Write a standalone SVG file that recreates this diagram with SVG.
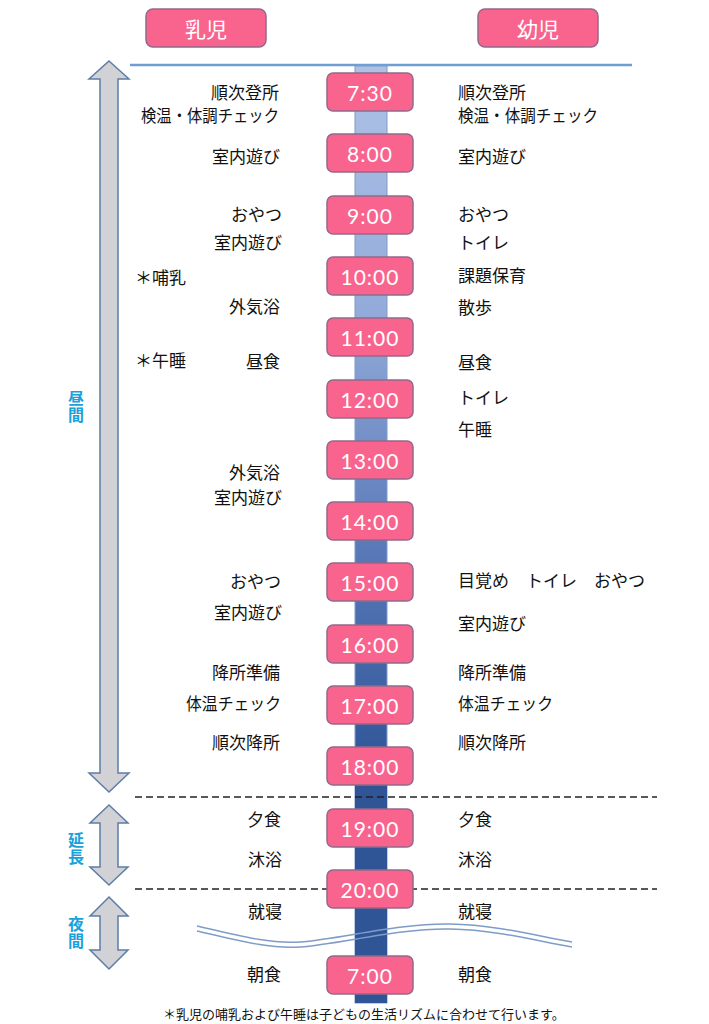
<svg xmlns="http://www.w3.org/2000/svg" width="709" height="1024" viewBox="0 0 709 1024">
<defs>
<linearGradient id="barGrad" gradientUnits="userSpaceOnUse" x1="0" y1="65" x2="0" y2="775">
<stop offset="0" stop-color="#aec2e6"/>
<stop offset="0.35" stop-color="#93abda"/>
<stop offset="0.7" stop-color="#5676b6"/>
<stop offset="1" stop-color="#2f5597"/>
</linearGradient>
<style>
.hdr{fill:#f9648f;stroke:#94688a;stroke-width:1.5}
.tbox{fill:#f9648f;stroke:#94688a;stroke-width:1.5}
.ttxt{font-family:Lato,"Open Sans",sans-serif;font-size:21px;fill:#ffffff;text-anchor:middle;dominant-baseline:central;letter-spacing:1px}
.htxt{font-family:"Noto Sans CJK JP",sans-serif;font-size:21px;fill:#ffffff;text-anchor:middle;dominant-baseline:central}
.tl{font-family:"Noto Sans CJK JP",sans-serif;font-size:17px;fill:#111111;text-anchor:end;dominant-baseline:central}
.tr{font-family:"Noto Sans CJK JP",sans-serif;font-size:17px;fill:#111111;text-anchor:start;dominant-baseline:central}
.vl{font-family:"Noto Sans CJK JP",sans-serif;font-size:16px;font-weight:bold;fill:#1aa1da;text-anchor:middle;writing-mode:vertical-rl;letter-spacing:1px}
.arr{fill:#d2d2d6;stroke:#5c7ea6;stroke-width:1.5;stroke-linejoin:miter}
.dash{stroke:#222222;stroke-width:1.6;stroke-dasharray:7 4;fill:none}
.wave{stroke:#7e9cc8;stroke-width:1.5;fill:none}
</style>
</defs>
<rect width="709" height="1024" fill="#ffffff"/>

<g id="header-infant"><rect class="hdr" x="146" y="9" width="120" height="38" rx="7"/><text class="htxt" x="206" y="28">乳児</text></g>
<g id="header-toddler"><rect class="hdr" x="478" y="9" width="120" height="38" rx="7"/><text class="htxt" x="538" y="28">幼児</text></g>

<line x1="130" y1="65" x2="632" y2="65" stroke="#6f9fd2" stroke-width="2.5"/>

<g id="timebar"><rect x="355" y="66" width="32" height="937" fill="url(#barGrad)" stroke="#7f9cc8" stroke-width="1"/>
<rect x="355" y="775" width="32" height="228" fill="#2f5597"/></g>

<g id="period-arrows">
<path class="arr" d="M109,61 L129,79 L118,79 L118,773 L129,773 L109,792 L89,773 L100,773 L100,79 L89,79 Z"/>
<path class="arr" d="M109,805 L128,823 L118,823 L118,867 L128,867 L109,885 L90,867 L100,867 L100,823 L90,823 Z"/>
<path class="arr" d="M109,897 L128,916 L118,916 L118,950 L128,950 L109,969 L90,950 L100,950 L100,916 L90,916 Z"/>
<text class="vl" x="76" y="407">昼間</text>
<text class="vl" x="76" y="849">延長</text>
<text class="vl" x="76" y="933">夜間</text>
</g>

<g id="connectors">
<line class="dash" x1="135" y1="797" x2="657" y2="797"/>
<line class="dash" x1="135" y1="889" x2="657" y2="889"/>
<path class="wave" d="M197,926 C240,936 270,944 300,942 C340,939 400,923 450,924 C500,925 540,937 572,942"/>
<path class="wave" d="M197,931 C240,941 270,949 300,947 C340,944 400,928 450,929 C500,930 540,942 572,947"/>
</g>

<g id="times">
<g id="t0730"><rect class="tbox" x="327" y="73" width="86" height="38" rx="6"/><text class="ttxt" x="370" y="92">7:30</text></g>
<g id="t0800"><rect class="tbox" x="327" y="134" width="86" height="38" rx="6"/><text class="ttxt" x="370" y="153">8:00</text></g>
<g id="t0900"><rect class="tbox" x="327" y="196" width="86" height="38" rx="6"/><text class="ttxt" x="370" y="215">9:00</text></g>
<g id="t1000"><rect class="tbox" x="327" y="257" width="86" height="38" rx="6"/><text class="ttxt" x="370" y="276">10:00</text></g>
<g id="t1100"><rect class="tbox" x="327" y="318" width="86" height="38" rx="6"/><text class="ttxt" x="370" y="337">11:00</text></g>
<g id="t1200"><rect class="tbox" x="327" y="380" width="86" height="38" rx="6"/><text class="ttxt" x="370" y="399">12:00</text></g>
<g id="t1300"><rect class="tbox" x="327" y="441" width="86" height="38" rx="6"/><text class="ttxt" x="370" y="460">13:00</text></g>
<g id="t1400"><rect class="tbox" x="327" y="502" width="86" height="38" rx="6"/><text class="ttxt" x="370" y="521">14:00</text></g>
<g id="t1500"><rect class="tbox" x="327" y="563" width="86" height="38" rx="6"/><text class="ttxt" x="370" y="582">15:00</text></g>
<g id="t1600"><rect class="tbox" x="327" y="625" width="86" height="38" rx="6"/><text class="ttxt" x="370" y="644">16:00</text></g>
<g id="t1700"><rect class="tbox" x="327" y="686" width="86" height="38" rx="6"/><text class="ttxt" x="370" y="705">17:00</text></g>
<g id="t1800"><rect class="tbox" x="327" y="747" width="86" height="38" rx="6"/><text class="ttxt" x="370" y="766">18:00</text></g>
<g id="t1900"><rect class="tbox" x="327" y="809" width="86" height="38" rx="6"/><text class="ttxt" x="370" y="828">19:00</text></g>
<g id="t2000"><rect class="tbox" x="327" y="870" width="86" height="38" rx="6"/><text class="ttxt" x="370" y="889">20:00</text></g>
<g id="t0700"><rect class="tbox" x="327" y="956" width="86" height="38" rx="6"/><text class="ttxt" x="370" y="975">7:00</text></g>
</g>

<g id="infant-activities">
<text class="tl" x="279" y="91">順次登所</text>
<text class="tl" x="279" y="114" textLength="138" lengthAdjust="spacingAndGlyphs">検温・体調チェック</text>
<text class="tl" x="280" y="155">室内遊び</text>
<text class="tl" x="282" y="213">おやつ</text>
<text class="tl" x="282" y="241">室内遊び</text>
<text class="tr" x="135" y="276">＊哺乳</text>
<text class="tl" x="280" y="305">外気浴</text>
<text class="tr" x="135" y="359">＊午睡</text>
<text class="tl" x="280" y="360">昼食</text>
<text class="tl" x="280" y="471">外気浴</text>
<text class="tl" x="282" y="496">室内遊び</text>
<text class="tl" x="281" y="580">おやつ</text>
<text class="tl" x="282" y="611">室内遊び</text>
<text class="tl" x="280" y="671">降所準備</text>
<text class="tl" x="281" y="702" textLength="95" lengthAdjust="spacingAndGlyphs">体温チェック</text>
<text class="tl" x="280" y="741">順次降所</text>
<text class="tl" x="281" y="818">夕食</text>
<text class="tl" x="282" y="858">沐浴</text>
<text class="tl" x="282" y="910">就寝</text>
<text class="tl" x="281" y="973">朝食</text>
</g>

<g id="toddler-activities">
<text class="tr" x="458" y="91">順次登所</text>
<text class="tr" x="458" y="114" textLength="140" lengthAdjust="spacingAndGlyphs">検温・体調チェック</text>
<text class="tr" x="458" y="155">室内遊び</text>
<text class="tr" x="458" y="213">おやつ</text>
<text class="tr" x="458" y="241">トイレ</text>
<text class="tr" x="458" y="274">課題保育</text>
<text class="tr" x="458" y="306">散歩</text>
<text class="tr" x="458" y="361">昼食</text>
<text class="tr" x="458" y="396">トイレ</text>
<text class="tr" x="458" y="428">午睡</text>
<text class="tr" x="458" y="579">目覚め　トイレ　おやつ</text>
<text class="tr" x="458" y="622">室内遊び</text>
<text class="tr" x="458" y="671">降所準備</text>
<text class="tr" x="458" y="702" textLength="95" lengthAdjust="spacingAndGlyphs">体温チェック</text>
<text class="tr" x="458" y="741">順次降所</text>
<text class="tr" x="458" y="818">夕食</text>
<text class="tr" x="458" y="858">沐浴</text>
<text class="tr" x="458" y="910">就寝</text>
<text class="tr" x="458" y="973">朝食</text>
</g>

<g id="footnote"><text x="163" y="1013" font-family="'Noto Sans CJK JP',sans-serif" font-size="13" fill="#111111" dominant-baseline="central">＊乳児の哺乳および午睡は子どもの生活リズムに合わせて行います。</text></g>
</svg>
